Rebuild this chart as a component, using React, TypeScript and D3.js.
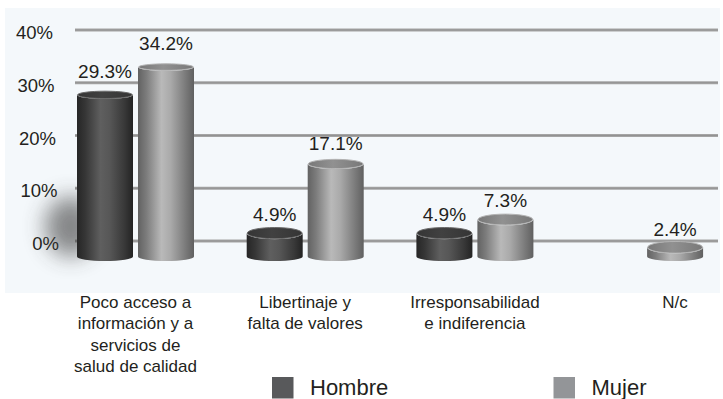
import React from "react";
import * as d3 from "d3";

// Categories (label lines) and series values in percent
const categoryLines: string[][] = [
  ["Poco acceso a", "información y a", "servicios de", "salud de calidad"],
  ["Libertinaje y", "falta de valores"],
  ["Irresponsabilidad", "e indiferencia"],
  ["N/c"],
];
const categoryKeys = ["poco", "libertinaje", "irresponsabilidad", "nc"];
const hombre: (number | null)[] = [29.3, 4.9, 4.9, null];
const mujer: (number | null)[] = [34.2, 17.1, 7.3, 2.4];
const seriesNames = ["Hombre", "Mujer"];
const tickValues = [0, 10, 20, 30, 40];

const W = 723;
const H = 399;
const FONT = "'Liberation Sans', Arial, Helvetica, sans-serif";
const TEXT = "#231f20";

// Back wall (gridlines) and the front bars use slightly different vertical scales
const yGrid = d3.scaleLinear().domain([0, 40]).range([241, 30]);
const yBar = d3.scaleLinear().domain([0, 40]).range([254.5, 31]);
const yLabel = d3.scaleLinear().domain([0, 40]).range([249.6, 16]);
const tickX = d3.scaleLinear().domain([0, 40]).range([59, 53]);
const topRy = d3.scaleLinear().domain([0, 40]).range([6.4, 3.2]);
const x = d3.scalePoint<string>().domain(categoryKeys).range([135.5, 644.6]);

const BAR_W = 56;
const GAP = 5;
const BASE_Y = 256.5;
const BASE_RY = 4.5;

const palette = [
  {
    body: ["#262626", "#363636", "#5f5f5f", "#575757", "#383838", "#232323"],
    top: "#3b3b3b",
    rim: "#6a6a6a",
    legend: "#58595b",
  },
  {
    body: ["#626262", "#7c7c7c", "#b9b9b9", "#aaaaaa", "#7a7a7a", "#606060"],
    top: "#858585",
    rim: "#b3b3b3",
    legend: "#939598",
  },
];
const bodyOffsets = [0, 0.15, 0.42, 0.58, 0.85, 1];

type Bar = { cat: number; series: number; value: number; x0: number };

function buildBars(): Bar[] {
  const out: Bar[] = [];
  categoryKeys.forEach((k, i) => {
    const c = x(k)!;
    const vals = [hombre[i], mujer[i]];
    vals.forEach((v, s) => {
      if (v == null) return;
      const x0 = s === 0 ? c - GAP / 2 - BAR_W : c + GAP / 2;
      out.push({ cat: i, series: s, value: v, x0 });
    });
  });
  return out;
}

function Cylinder({ b }: { b: Bar }) {
  const p = palette[b.series];
  const rx = BAR_W / 2;
  const cx = b.x0 + rx;
  const ry = topRy(b.value);
  const topCy = yBar(b.value) + ry;
  const x1 = b.x0 + BAR_W;
  const body =
    `M${b.x0},${topCy} L${b.x0},${BASE_Y} ` +
    `A${rx},${BASE_RY} 0 0 0 ${x1},${BASE_Y} L${x1},${topCy} ` +
    `A${rx},${ry} 0 0 1 ${b.x0},${topCy} Z`;
  return (
    <g>
      <path d={body} fill={`url(#body-${b.series})`} />
      <ellipse
        cx={cx}
        cy={topCy}
        rx={rx - 0.6}
        ry={ry - 0.4}
        fill={`url(#top-${b.series})`}
        stroke={p.rim}
        strokeWidth={1}
      />
    </g>
  );
}

export default function App() {
  const bars = buildBars();
  const first = bars[0];

  return (
    <svg
      width={W}
      height={H}
      viewBox={`0 0 ${W} ${H}`}
      style={{ position: "absolute", left: 0, top: 0, background: "#ffffff" }}
    >
      <defs>
        {palette.map((p, s) => (
          <linearGradient key={`b${s}`} id={`body-${s}`} x1="0" x2="1" y1="0" y2="0">
            {p.body.map((c, i) => (
              <stop key={i} offset={bodyOffsets[i]} stopColor={c} />
            ))}
          </linearGradient>
        ))}
        {palette.map((p, s) => (
          <linearGradient key={`t${s}`} id={`top-${s}`} x1="0" x2="1" y1="0" y2="0">
            <stop offset="0" stopColor={d3.color(p.top)!.darker(0.3).formatHex()} />
            <stop offset="0.45" stopColor={d3.color(p.top)!.brighter(0.25).formatHex()} />
            <stop offset="1" stopColor={d3.color(p.top)!.darker(0.3).formatHex()} />
          </linearGradient>
        ))}
        <filter id="soft" x="-1" y="-1" width="3" height="3">
          <feGaussianBlur stdDeviation="11" />
        </filter>
      </defs>

      {/* chart panel */}
      <rect x={5} y={8} width={715} height={285} fill="#f4f8fb" />

      {/* gridlines on the back wall */}
      {tickValues.map((t) => (
        <g key={`g${t}`}>
          <line x1={75} x2={718} y1={yGrid(t)} y2={yGrid(t)} stroke="#a4a4a4" strokeWidth={3} />
          <line x1={75} x2={718} y1={yGrid(t)} y2={yGrid(t)} stroke="#929292" strokeWidth={1} />
        </g>
      ))}

      {/* tick labels */}
      {tickValues.map((t) => (
        <text
          key={`t${t}`}
          x={tickX(t)}
          y={yGrid(t) + 9}
          textAnchor="end"
          fontFamily={FONT}
          fontSize={18.5}
          fill={TEXT}
        >
          {`${t}%`}
        </text>
      ))}

      {/* cast shadow left of the first bar */}
      {first && (
        <ellipse
          cx={first.x0 - 6}
          cy={BASE_Y - 30}
          rx={26}
          ry={30}
          fill="#3a3a3a"
          opacity={0.6}
          filter="url(#soft)"
        />
      )}

      {/* bars */}
      {bars.map((b, i) => (
        <Cylinder key={i} b={b} />
      ))}

      {/* value labels */}
      {bars.map((b, i) => (
        <text
          key={`v${i}`}
          x={b.x0 + BAR_W / 2}
          y={yLabel(b.value)}
          textAnchor="middle"
          fontFamily={FONT}
          fontSize={19}
          fill={TEXT}
        >
          {`${b.value.toFixed(1)}%`}
        </text>
      ))}

      {/* category labels */}
      {categoryLines.map((lines, i) => {
        const drawn = bars.filter((b) => b.cat === i);
        const cx =
          drawn.length > 0
            ? d3.mean(drawn, (b) => b.x0 + BAR_W / 2)!
            : x(categoryKeys[i])!;
        return (
          <text
            key={`c${i}`}
            textAnchor="middle"
            fontFamily={FONT}
            fontSize={17}
            fill={TEXT}
          >
            {lines.map((l, j) => (
              <tspan key={j} x={cx} y={308 + j * 21.3}>
                {l}
              </tspan>
            ))}
          </text>
        );
      })}

      {/* legend */}
      {seriesNames.map((name, s) => {
        const lx = s === 0 ? 272 : 553.5;
        return (
          <g key={name}>
            <rect x={lx} y={377} width={21.5} height={21.5} fill={palette[s].legend} />
            <text x={lx + 38} y={395} fontFamily={FONT} fontSize={22} fill={TEXT}>
              {name}
            </text>
          </g>
        );
      })}
    </svg>
  );
}
